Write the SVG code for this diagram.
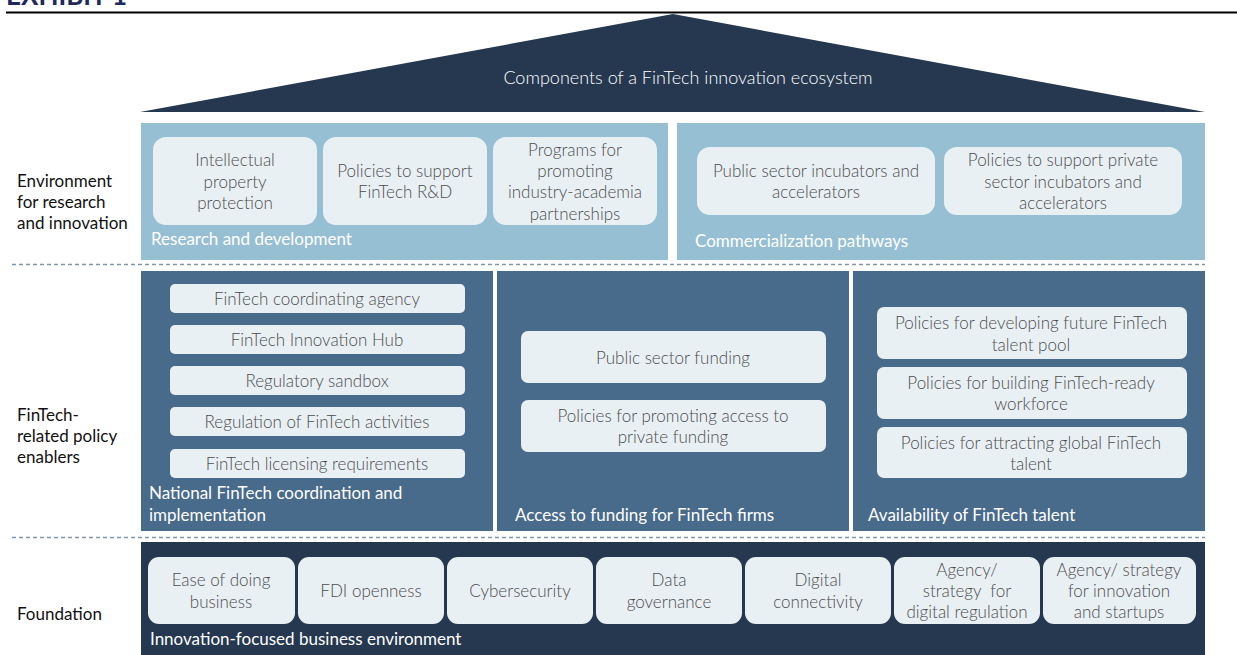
<svg xmlns="http://www.w3.org/2000/svg" width="1237" height="655" viewBox="0 0 1237 655">
  <style>
    text { font-family: Lato, "Liberation Sans", sans-serif; }
    .side { font-size: 17px; fill: #111; }
    .item { font-size: 17px; font-weight: 300; fill: #4d4d4d; text-anchor: middle; }
    .panel-title { font-size: 17px; fill: #fff; }
    .card { fill: #e9f0f4; }
    .sep { stroke: #8196ad; stroke-width: 1.3; stroke-dasharray: 4 3; fill: none; }
  </style>

  <!-- heading -->
  <text x="6" y="5" style="font-size:26px;font-weight:bold;fill:#1e2a5e">EXHIBIT 1</text>
  <line x1="6" y1="12.5" x2="1237" y2="12.5" stroke="#000" stroke-width="2.2"/>

  <!-- roof -->
  <g id="roof">
    <polygon points="140,112 673,14 1205,112" fill="#253850"/>
    <text x="688" y="84" style="font-size:18px;font-weight:300;fill:#fff;text-anchor:middle">Components of a FinTech innovation ecosystem</text>
  </g>

  <!-- row labels -->
  <g id="row-labels">
    <text class="side" x="17" y="187">Environment</text>
    <text class="side" x="17" y="208">for research</text>
    <text class="side" x="17" y="229">and innovation</text>
    <text class="side" x="17" y="421">FinTech-</text>
    <text class="side" x="17" y="442">related policy</text>
    <text class="side" x="17" y="463">enablers</text>
    <text class="side" x="17" y="620">Foundation</text>
  </g>

  <!-- row separators -->
  <g id="connectors">
    <line class="sep" x1="12" y1="264.5" x2="1205" y2="264.5"/>
    <line class="sep" x1="12" y1="537.5" x2="1205" y2="537.5"/>
  </g>

  <!-- research and development -->
  <g id="research-development">
    <rect x="141" y="123" width="527" height="137" fill="#97bfd4"/>
    <rect class="card" x="153" y="137" width="164" height="88" rx="13"/>
    <text class="item" x="235" y="166">Intellectual</text>
    <text class="item" x="235" y="188">property</text>
    <text class="item" x="235" y="209">protection</text>
    <rect class="card" x="323" y="137" width="164" height="88" rx="13"/>
    <text class="item" x="405" y="177">Policies to support</text>
    <text class="item" x="405" y="198">FinTech R&amp;D</text>
    <rect class="card" x="493" y="137" width="164" height="88" rx="13"/>
    <text class="item" x="575" y="156">Programs for</text>
    <text class="item" x="575" y="177">promoting</text>
    <text class="item" x="575" y="198">industry-academia</text>
    <text class="item" x="575" y="220">partnerships</text>
    <text class="panel-title" x="151" y="245">Research and development</text>
  </g>

  <!-- commercialization pathways -->
  <g id="commercialization">
    <rect x="677" y="123" width="528" height="137" fill="#97bfd4"/>
    <rect class="card" x="697" y="147" width="238" height="68" rx="13"/>
    <text class="item" x="816" y="177">Public sector incubators and</text>
    <text class="item" x="816" y="198">accelerators</text>
    <rect class="card" x="944" y="147" width="238" height="68" rx="13"/>
    <text class="item" x="1063" y="166">Policies to support private</text>
    <text class="item" x="1063" y="188">sector incubators and</text>
    <text class="item" x="1063" y="209">accelerators</text>
    <text class="panel-title" x="695" y="247">Commercialization pathways</text>
  </g>

  <!-- national coordination -->
  <g id="national-coordination">
    <rect x="141" y="271" width="352" height="260" fill="#486a8b"/>
    <rect class="card" x="170" y="284" width="295" height="29" rx="5"/>
    <text class="item" x="317" y="305">FinTech coordinating agency</text>
    <rect class="card" x="170" y="325" width="295" height="29" rx="5"/>
    <text class="item" x="317" y="346">FinTech Innovation Hub</text>
    <rect class="card" x="170" y="366" width="295" height="29" rx="5"/>
    <text class="item" x="317" y="387">Regulatory sandbox</text>
    <rect class="card" x="170" y="407" width="295" height="29" rx="5"/>
    <text class="item" x="317" y="428">Regulation of FinTech activities</text>
    <rect class="card" x="170" y="449" width="295" height="29" rx="5"/>
    <text class="item" x="317" y="470">FinTech licensing requirements</text>
    <text class="panel-title" x="149" y="499">National FinTech coordination and</text>
    <text class="panel-title" x="149" y="521">implementation</text>
  </g>

  <!-- access to funding -->
  <g id="funding">
    <rect x="497" y="271" width="352" height="260" fill="#486a8b"/>
    <rect class="card" x="521" y="331" width="305" height="52" rx="7"/>
    <text class="item" x="673" y="364">Public sector funding</text>
    <rect class="card" x="521" y="400" width="305" height="52" rx="7"/>
    <text class="item" x="673" y="422">Policies for promoting access to</text>
    <text class="item" x="673" y="443">private funding</text>
    <text class="panel-title" x="515" y="521">Access to funding for FinTech firms</text>
  </g>

  <!-- talent -->
  <g id="talent">
    <rect x="853" y="271" width="352" height="260" fill="#486a8b"/>
    <rect class="card" x="877" y="307" width="310" height="52" rx="7"/>
    <text class="item" x="1031" y="329">Policies for developing future FinTech</text>
    <text class="item" x="1031" y="351">talent pool</text>
    <rect class="card" x="877" y="367" width="310" height="52" rx="7"/>
    <text class="item" x="1031" y="389">Policies for building FinTech-ready</text>
    <text class="item" x="1031" y="410">workforce</text>
    <rect class="card" x="877" y="427" width="310" height="51" rx="7"/>
    <text class="item" x="1031" y="449">Policies for attracting global FinTech</text>
    <text class="item" x="1031" y="470">talent</text>
    <text class="panel-title" x="868" y="521">Availability of FinTech talent</text>
  </g>

  <!-- foundation -->
  <g id="foundation">
    <rect x="141" y="542" width="1064" height="113" fill="#253850"/>
    <rect class="card" x="148" y="557" width="147" height="67" rx="11"/>
    <text class="item" x="221" y="586">Ease of doing</text>
    <text class="item" x="221" y="608">business</text>
    <rect class="card" x="298" y="557" width="146" height="67" rx="11"/>
    <text class="item" x="371" y="597">FDI openness</text>
    <rect class="card" x="447" y="557" width="146" height="67" rx="11"/>
    <text class="item" x="520" y="597">Cybersecurity</text>
    <rect class="card" x="596" y="557" width="146" height="67" rx="11"/>
    <text class="item" x="669" y="586">Data</text>
    <text class="item" x="669" y="608">governance</text>
    <rect class="card" x="745" y="557" width="146" height="67" rx="11"/>
    <text class="item" x="818" y="586">Digital</text>
    <text class="item" x="818" y="608">connectivity</text>
    <rect class="card" x="894" y="557" width="146" height="67" rx="11"/>
    <text class="item" x="967" y="576">Agency/</text>
    <text class="item" x="967" y="597" xml:space="preserve">strategy  for</text>
    <text class="item" x="967" y="618">digital regulation</text>
    <rect class="card" x="1043" y="557" width="153" height="67" rx="11"/>
    <text class="item" x="1119" y="576">Agency/ strategy</text>
    <text class="item" x="1119" y="597">for innovation</text>
    <text class="item" x="1119" y="618">and startups</text>
    <text class="panel-title" x="150" y="645">Innovation-focused business environment</text>
  </g>
</svg>
